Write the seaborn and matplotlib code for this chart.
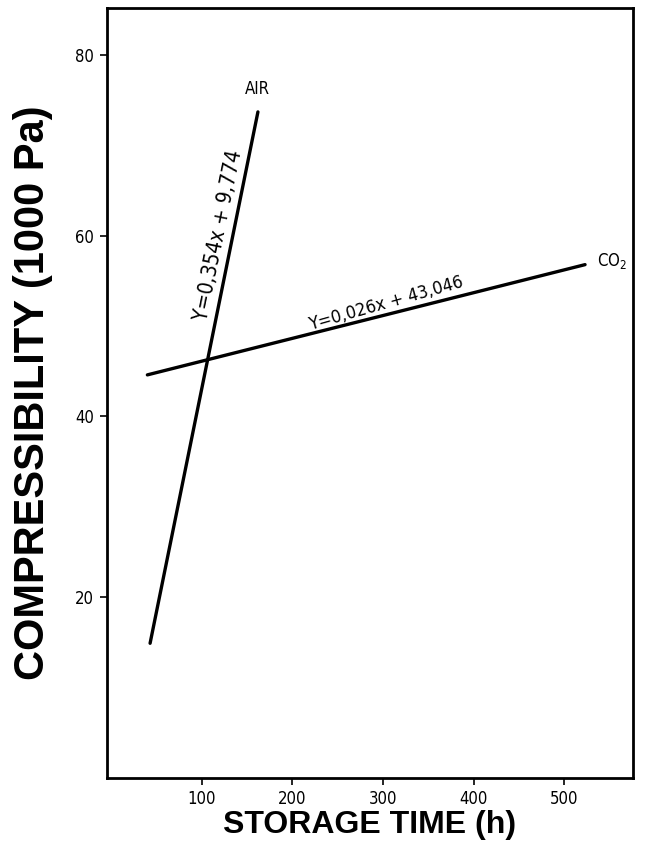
import pandas as pd
import matplotlib
matplotlib.use("Agg")
import matplotlib.pyplot as plt
import seaborn as sb

# DATA
#----------------------------------------------------
air_time = [43, 162]
air_comp = [14.9, 73.7]
co2_time = [40, 523]
co2_comp = [44.6, 56.8]

x_ticks = [100, 200, 300, 400, 500]
y_ticks = [20, 40, 60, 80]

air_eq = "Y=0,354x + 9,774"
co2_eq = "Y=0,026x + 43,046"

# PLOT
#----------------------------------------------------
sb.set_style("ticks")
plt.rcParams["font.family"] = ["DejaVu Sans"]
plt.rcParams["font.stretch"] = "condensed"
plt.rcParams["text.color"] = "black"
plt.rcParams["axes.labelcolor"] = "black"

df = pd.concat([
    pd.DataFrame({"time": air_time, "comp": air_comp, "gas": "AIR"}),
    pd.DataFrame({"time": co2_time, "comp": co2_comp, "gas": "CO2"}),
])

fig = plt.figure(figsize=(6.46, 8.41), dpi=100)
ax = fig.add_axes([0.165, 0.075, 0.815, 0.9155])

sb.lineplot(data=df, x="time", y="comp", units="gas", estimator=None,
            color="black", linewidth=2.4, ax=ax, legend=False)

ax.set_xlim(-5, 576)
ax.set_ylim(0, 85.2)
ax.set_xticks(x_ticks)
ax.set_yticks(y_ticks)
ax.tick_params(axis="both", direction="out", length=5, width=1.2,
               labelsize=12, pad=4, colors="black")
for s in ax.spines.values():
    s.set_linewidth(2.0)
    s.set_color("black")

ax.text(161.5, 75.2, "AIR", fontsize=12, ha="center", va="bottom")
ax.text(553, 57.2, "CO$_2$", fontsize=12, ha="center", va="center")
ax.text(118, 60.0, air_eq, fontsize=15, rotation=78.5,
        ha="center", va="center")
ax.text(303, 52.5, co2_eq, fontsize=13, rotation=15.8,
        ha="center", va="center")

ax.set_xlabel("STORAGE TIME (h)", fontsize=23, fontweight="bold",
              family="Liberation Sans", fontstretch="normal", labelpad=1)
ax.set_ylabel("COMPRESSIBILITY (1000 Pa)", fontsize=30, fontweight="bold",
              family="Liberation Sans", fontstretch="normal", labelpad=16)

fig.savefig("out.png", dpi=100)
